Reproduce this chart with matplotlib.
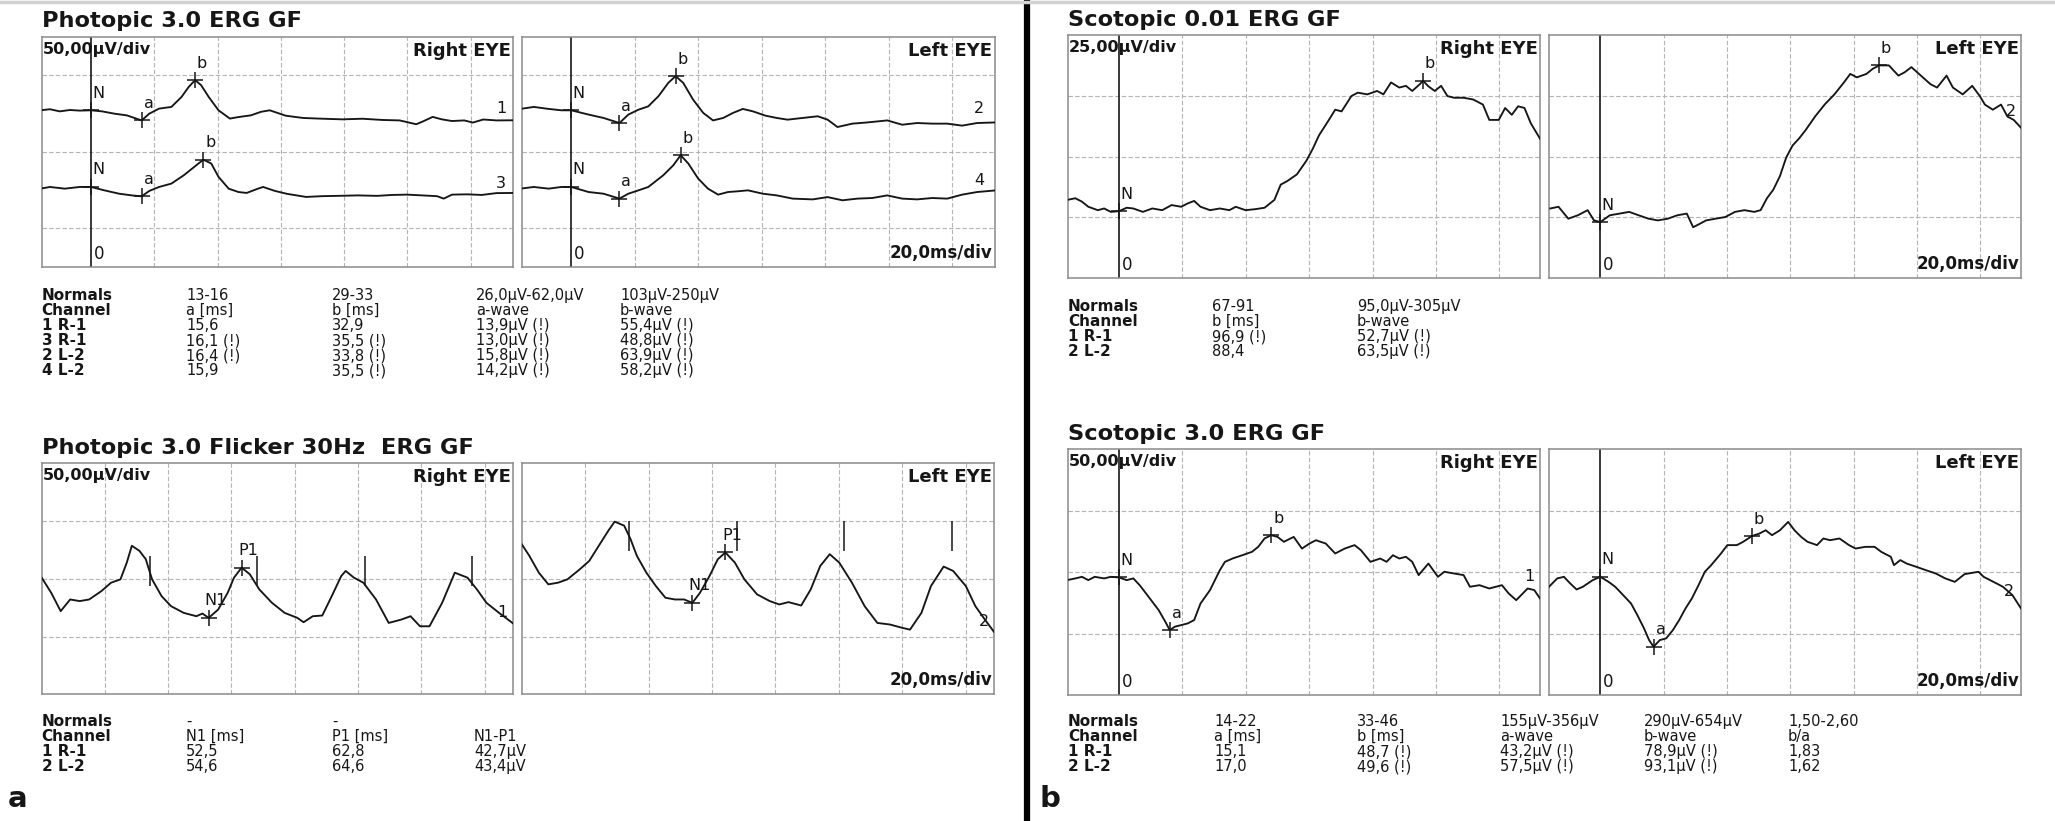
import matplotlib
matplotlib.use("Agg")
import matplotlib.pyplot as plt
from matplotlib.lines import Line2D

plt.rcParams['font.family'] = ['DejaVu Sans']
W, H = 2055, 821
INK = '#161616'
GRID = '#b4b4b4'
EDGE = '#8a8a8a'

# ---------------- Photopic 3.0 ERG (ms, uV relative to each trace baseline) ----------------
ph_t_ch1 = [-16, -13.0, -9.9, -6.7, -3.6, 0, 3.5, 7.4, 11.3, 13.7, 16.0, 18.4, 21.5, 25.4, 28.6, 30.9, 32.9, 34.8,
            37.2, 40.3, 43.9, 46.6, 50.5, 53.7, 56.5, 61.5, 67.0, 73.3, 79.5, 85.8, 92.1, 97.6, 102.8, 105.0,
            108.0, 110.9, 114.1, 118.0, 120.7, 124.0, 128.2, 134]
ph_v_ch1 = [0, 0.7, -0.7, 0.2, -0.2, 0, -0.7, -2.2, -3.3, -5.0, -6.6, -2.2, 1.1, 2.2, 8.7, 15.3, 19.7, 16.4,
            8.7, 0, -5.4, -4.4, -3.3, -1.0, 0.0, -3.5, -5.0, -5.5, -5.9, -5.5, -6.3, -6.6, -9.1, -7.2,
            -4.3, -5.9, -7.0, -6.6, -8.0, -6.0, -6.6, -6.5]
ph_t_ch3 = [-16, -13.0, -8.3, -3.6, 0, 4.2, 8.9, 12.9, 16.0, 18.4, 21.5, 25.4, 29.3, 33.3, 35.5, 38.0, 40.3,
            43.5, 46.6, 49.2, 52.9, 54.4, 58.0, 62.0, 68.0, 73.0, 78.0, 84.3, 90.5, 95.2, 99.9, 104.7, 109.4,
            111.5, 114.1, 118.8, 123.5, 128.2, 134]
ph_v_ch3 = [-1.1, 0, -1.1, 0, 0, -2.2, -4.4, -5.5, -6.1, -2.6, 0, 2.2, 7.6, 14.2, 17.8, 15.3, 6.6,
            -1.1, -3.3, -3.9, -1.0, 0.0, -2.5, -4.5, -6.5, -6.0, -5.8, -5.5, -5.8, -5.2, -5.0, -5.5, -6.0,
            -7.6, -5.0, -4.8, -5.2, -4.0, -3.9]
ph_t_ch2 = [-16, -11.8, -7.1, -3.1, 0, 5.5, 10.2, 15.2, 18.0, 21.2, 24.3, 27.5, 30.6, 32.9, 35.3, 38.4, 41.6,
            44.7, 47.9, 51.0, 54.1, 57.3, 61.2, 64.8, 68.2, 72.9, 77.7, 80.8, 83.9, 88.6, 93.4, 99.6, 104.3,
            109.0, 113.8, 118.5, 123.2, 127.9, 134]
ph_v_ch2 = [0.9, 2.2, 0.9, 0, 0, -2.8, -5.0, -8.3, -2.8, 0.4, 2.6, 9.2, 17.9, 22.3, 17.9, 7.0, -1.7,
            -6.6, -5.0, -1.7, 0.9, -0.7, -3.5, -5.0, -6.1, -5.0, -3.9, -6.1, -10.9, -8.7, -7.9, -6.6, -9.4,
            -8.3, -8.7, -8.7, -10.0, -8.3, -7.9]
ph_t_ch4 = [-16, -11.8, -7.1, -3.1, 0, 5.5, 10.2, 15.2, 18.0, 21.2, 24.3, 29.0, 32.2, 34.5, 36.9, 40.0, 43.1,
            46.3, 49.4, 52.6, 55.7, 60.4, 64.8, 69.8, 76.1, 80.8, 85.5, 90.2, 94.9, 99.6, 104.3, 109.0, 113.8,
            118.5, 123.2, 127.9, 134]
ph_v_ch4 = [-1.1, 0, -1.1, 0, 0, -3.3, -4.4, -7.6, -4.4, -2.2, 0, 7.6, 14.2, 20.7, 15.3, 5.5, -1.1,
            -5.0, -3.3, -2.8, -2.2, -4.4, -5.5, -7.6, -8.1, -6.6, -8.7, -7.6, -7.2, -5.5, -7.6, -8.1, -7.2,
            -7.6, -5.0, -3.3, -2.2]
ph_marks_ch1 = [("N", 0.0, 0.0), ("a", 16.0, -6.6), ("b", 32.9, 19.7)]
ph_marks_ch3 = [("N", 0.0, 0.0), ("a", 16.0, -6.1), ("b", 35.5, 17.8)]
ph_marks_ch2 = [("N", 0.0, 0.0), ("a", 15.2, -8.3), ("b", 32.9, 22.3)]
ph_marks_ch4 = [("N", 0.0, 0.0), ("a", 15.2, -7.6), ("b", 34.5, 20.7)]
ph_baselines = [102, 52]

# ---------------- Photopic 3.0 Flicker 30Hz (ms, uV) ----------------
fl_t_r = [0, 3.0, 6.0, 9.0, 12.0, 15.0, 18.9, 21.9, 24.9, 26.9, 28.5, 30.9, 32.9, 34.9, 37.9, 40.9, 44.9, 48.9,
          50.8, 52.8, 55.8, 58.8, 60.8, 63.2, 65.8, 68.8, 72.8, 76.8, 80.8, 82.8, 85.7, 88.7, 91.7, 94.7, 96.1,
          98.7, 101.7, 105.7, 109.7, 113.7, 116.6, 119.6, 122.6, 126.6, 130.6, 134.6, 137.6, 140.6, 144.6, 149.5]
fl_v_r = [101.0, 87.9, 72.0, 82.1, 80.7, 82.1, 89.4, 96.6, 99.5, 114.0, 128.6, 124.2, 117.0, 99.5, 85.0, 76.3,
          70.5, 67.6, 69.9, 66.2, 73.4, 87.9, 101.0, 109.7, 103.9, 90.8, 79.2, 70.5, 66.2, 62.4, 67.6, 68.2,
          85.0, 102.4, 106.8, 101.0, 96.6, 82.1, 61.8, 64.7, 67.6, 58.9, 58.9, 79.2, 105.3, 101.0, 90.8, 79.2,
          70.5, 60.4]
fl_t_l = [0, 2.4, 5.4, 8.4, 11.4, 14.4, 18.3, 21.3, 24.3, 27.3, 29.3, 32.3, 34.3, 36.3, 39.3, 42.3, 45.3, 48.3,
          51.2, 53.8, 56.2, 59.2, 61.8, 64.2, 67.2, 70.2, 74.2, 78.2, 81.2, 84.1, 88.1, 91.1, 94.1, 97.1, 100.1,
          104.1, 108.1, 112.1, 116.1, 120.0, 122.4, 126.0, 129.0, 133.0, 136.0, 140.0, 143.0, 146.0, 149.5]
fl_v_l = [130.0, 119.9, 105.3, 95.2, 96.6, 99.5, 108.2, 115.5, 128.6, 141.6, 149.5, 146.0, 134.4, 119.9, 105.3,
          93.7, 83.6, 82.1, 82.1, 79.2, 87.9, 102.4, 116.9, 122.8, 114.0, 99.5, 86.5, 80.7, 77.8, 79.8, 76.9,
          90.8, 111.1, 121.3, 114.0, 96.6, 76.3, 61.8, 60.4, 57.5, 56.0, 70.5, 93.7, 110.6, 106.8, 93.7, 76.3,
          64.7, 51.7]
fl_marks_r = [("N1", 52.8, 66.2), ("P1", 63.2, 109.7)]
fl_marks_l = [("N1", 53.8, 79.2), ("P1", 64.2, 122.8)]
fl_ticks_r = [34.3, 68.2, 102.1, 136.0]
fl_ticks_l = [33.9, 67.8, 101.7, 135.6]
fl_tick_span_r = (94, 120)
fl_tick_span_l = (124, 150)

# ---------------- Scotopic 0.01 ERG (ms, uV) ----------------
s1_t_r = [-16.4, -13.8, -11.7, -9.7, -6.7, -4.7, -2.6, 0, 2.4, 4.5, 7.5, 10.5, 13.6, 16.6, 19.6, 21.7, 23.7, 25.7,
          28.7, 31.8, 34.8, 36.8, 39.9, 42.9, 45.9, 49.0, 51.0, 53.0, 56.1, 59.1, 61.1, 63.1, 66.2, 68.2, 70.2,
          73.3, 75.3, 78.3, 81.4, 83.4, 85.8, 88.4, 90.5, 92.5, 94.9, 95.9, 97.6, 99.6, 101.6, 103.6, 105.7,
          108.7, 111.7, 114.8, 116.8, 119.8, 121.8, 123.9, 125.9, 127.9, 129.9, 132.8]
s1_v_r = [32.2, 32.9, 31.5, 29.4, 28.0, 28.7, 27.3, 27.6, 29.0, 28.7, 27.3, 28.7, 28.0, 30.1, 29.4, 30.8, 31.8,
          29.4, 28.0, 28.7, 28.0, 29.4, 28.0, 28.4, 29.0, 32.2, 38.5, 39.9, 42.7, 48.3, 53.2, 58.8, 65.1, 69.3,
          68.6, 74.9, 76.3, 75.6, 77.0, 75.6, 80.5, 78.4, 79.1, 77.0, 79.8, 81.2, 78.9, 77.0, 79.1, 74.9, 74.2,
          74.2, 73.5, 71.4, 65.1, 65.1, 70.0, 67.2, 70.7, 70.0, 63.7, 57.4]
s1_t_l = [-15.8, -13.2, -10.1, -7.1, -4.0, -2.0, 0, 3.0, 6.1, 9.1, 12.1, 15.2, 18.2, 21.3, 24.3, 27.3, 29.3, 31.4,
          33.4, 36.4, 39.5, 42.5, 45.5, 48.6, 50.6, 52.6, 54.6, 56.7, 58.7, 60.7, 62.7, 64.8, 67.8, 70.8, 73.9,
          76.9, 78.9, 81.0, 84.0, 86.0, 88.0, 91.1, 94.1, 96.1, 98.2, 101.2, 104.2, 106.3, 109.3, 111.3, 114.4,
          117.4, 119.8, 121.4, 123.9, 126.5, 128.5, 130.5, 133.0]
s1_v_l = [28.7, 29.4, 24.5, 25.9, 28.0, 23.8, 23.1, 25.9, 26.6, 27.3, 25.9, 24.5, 23.8, 24.5, 25.9, 26.6, 21.0,
          22.4, 23.8, 24.5, 25.2, 27.3, 28.0, 27.3, 28.0, 32.9, 36.4, 42.0, 49.7, 54.6, 57.4, 60.9, 66.5, 71.4,
          75.6, 80.5, 84.0, 82.6, 84.0, 86.1, 87.5, 87.5, 83.3, 84.7, 86.8, 83.3, 79.8, 78.4, 83.3, 78.4, 75.6,
          79.1, 74.9, 71.4, 69.3, 71.4, 66.5, 65.1, 61.6]
s1_marks_r = [("N", 0.0, 27.6), ("b", 95.9, 81.2)]
s1_marks_l = [("N", 0.0, 23.1), ("b", 88.0, 87.5)]

# ---------------- Scotopic 3.0 ERG (ms, uV) ----------------
s3_t_r = [-16.4, -13.8, -11.7, -9.7, -7.7, -4.7, -2.6, 0, 2.4, 4.5, 6.5, 8.5, 10.5, 12.5, 14.6, 16.0, 17.6, 19.6,
          21.7, 23.7, 25.7, 28.7, 31.8, 33.4, 35.8, 38.9, 41.9, 43.9, 45.9, 48.0, 50.0, 52.0, 55.1, 57.7, 60.1,
          62.1, 65.2, 68.2, 71.2, 74.3, 76.3, 79.3, 82.4, 84.4, 86.4, 88.4, 90.5, 92.5, 94.5, 97.6, 100.6, 102.6,
          105.7, 108.7, 110.7, 113.7, 116.8, 120.8, 122.9, 125.3, 128.9, 131.0, 132.8]
s3_v_r = [93.5, 94.9, 96.2, 93.5, 96.2, 94.9, 96.2, 95.7, 93.5, 94.9, 89.4, 82.7, 75.9, 69.1, 59.6, 52.8, 55.6,
          56.9, 58.3, 61.0, 74.5, 85.4, 101.6, 108.4, 111.1, 113.8, 116.5, 120.6, 127.4, 130.1, 128.7, 124.7,
          128.7, 119.2, 123.3, 126.0, 123.3, 115.2, 119.2, 122.0, 117.9, 108.4, 111.1, 108.4, 113.8, 111.1, 112.5,
          108.4, 97.6, 107.0, 96.2, 100.3, 98.9, 97.6, 88.1, 89.4, 86.7, 89.4, 82.7, 77.2, 86.7, 85.4, 78.6]
s3_t_l = [-16.2, -13.6, -11.5, -9.5, -7.5, -5.5, -2.4, 0, 2.6, 4.7, 6.7, 9.7, 11.7, 13.8, 15.4, 16.8, 18.8, 20.8,
          22.9, 24.9, 26.9, 28.9, 31.0, 33.0, 35.0, 38.1, 40.1, 43.1, 45.1, 47.8, 50.2, 52.2, 54.2, 56.7, 59.3,
          61.3, 63.4, 65.4, 68.4, 70.4, 72.5, 75.5, 78.5, 80.6, 83.6, 86.6, 88.7, 91.7, 92.7, 94.7, 96.7, 99.8,
          102.8, 105.9, 108.9, 111.9, 115.0, 119.4, 121.0, 124.1, 127.1, 130.1, 132.8]
s3_v_l = [88.1, 94.9, 96.2, 90.8, 85.9, 88.1, 93.5, 96.2, 92.1, 88.1, 82.7, 74.5, 65.0, 54.2, 44.7, 39.3, 44.7,
          46.1, 52.8, 61.0, 70.5, 78.6, 89.4, 100.3, 105.7, 115.2, 122.0, 122.0, 124.7, 129.3, 131.4, 134.1,
          130.1, 134.1, 140.9, 134.1, 128.7, 124.7, 122.0, 127.4, 126.0, 127.4, 122.0, 119.2, 120.6, 120.6,
          116.5, 112.5, 105.7, 109.8, 107.0, 104.3, 101.6, 98.9, 94.9, 92.1, 98.4, 100.3, 96.2, 92.1, 88.1,
          81.3, 70.5]
s3_marks_r = [("N", 0.0, 95.7), ("a", 16.0, 52.8), ("b", 48.0, 130.1)]
s3_marks_l = [("N", 0.0, 96.2), ("a", 16.8, 39.3), ("b", 47.8, 129.3)]

# ---------------- tables ----------------
ph_table = [["Normals", "13-16", "29-33", "26,0µV-62,0µV", "103µV-250µV"],
            ["Channel", "a [ms]", "b [ms]", "a-wave", "b-wave"],
            ["1 R-1", "15,6", "32,9", "13,9µV (!)", "55,4µV (!)"],
            ["3 R-1", "16,1 (!)", "35,5 (!)", "13,0µV (!)", "48,8µV (!)"],
            ["2 L-2", "16,4 (!)", "33,8 (!)", "15,8µV (!)", "63,9µV (!)"],
            ["4 L-2", "15,9", "35,5 (!)", "14,2µV (!)", "58,2µV (!)"]]
fl_table = [["Normals", "-", "-", ""],
            ["Channel", "N1 [ms]", "P1 [ms]", "N1-P1"],
            ["1 R-1", "52,5", "62,8", "42,7µV"],
            ["2 L-2", "54,6", "64,6", "43,4µV"]]
s1_table = [["Normals", "67-91", "95,0µV-305µV"],
            ["Channel", "b [ms]", "b-wave"],
            ["1 R-1", "96,9 (!)", "52,7µV (!)"],
            ["2 L-2", "88,4", "63,5µV (!)"]]
s3_table = [["Normals", "14-22", "33-46", "155µV-356µV", "290µV-654µV", "1,50-2,60"],
            ["Channel", "a [ms]", "b [ms]", "a-wave", "b-wave", "b/a"],
            ["1 R-1", "15,1", "48,7 (!)", "43,2µV (!)", "78,9µV (!)", "1,83"],
            ["2 L-2", "17,0", "49,6 (!)", "57,5µV (!)", "93,1µV (!)", "1,62"]]

# ---------------- drawing ----------------
fig = plt.figure(figsize=(W / 100, H / 100), dpi=100)
fig.patch.set_facecolor('white')


def rect(x1, y1, x2, y2):
    return [x1 / W, 1 - y2 / H, (x2 - x1) / W, (y2 - y1) / H]


def panel(box, xlim, ylim, xgrid, ygrid, zero):
    ax = fig.add_axes(rect(*box))
    ax.set_xlim(*xlim)
    ax.set_ylim(*ylim)
    ax.set_xticks([])
    ax.set_yticks([])
    for s in ax.spines.values():
        s.set_color(EDGE)
        s.set_linewidth(1.1)
    for x in xgrid:
        ax.axvline(x, color=GRID, lw=0.8, ls=(0, (4, 2)), zorder=1)
    for y in ygrid:
        ax.axhline(y, color=GRID, lw=0.8, ls=(0, (4, 2)), zorder=1)
    if zero:
        ax.axvline(0, color=INK, lw=1.2, zorder=2)
        ax.annotate('0', xy=(0, 0), xycoords=('data', 'axes fraction'), xytext=(3, 4),
                    textcoords='offset pixels', ha='left', va='bottom', fontsize=12, color=INK)
    return ax


def corner(ax, s, where, size=12):
    spec = {'tl': ((0, 1), (1, -5), 'left', 'top'),
            'tr': ((1, 1), (-2, -5), 'right', 'top'),
            'br': ((1, 0), (-2, 5), 'right', 'bottom')}[where]
    ax.annotate(s, xy=spec[0], xycoords='axes fraction', xytext=spec[1], textcoords='offset pixels',
                ha=spec[2], va=spec[3], fontsize=size, fontweight='bold', color=INK)


def trace(ax, t, v, base=0.0):
    ax.plot(t, [y + base for y in v], color=INK, lw=1.35, zorder=3, solid_joinstyle='round')


def marks(ax, items, base=0.0):
    for lab, t, v in items:
        ax.plot([t], [v + base], marker='+', ms=11, mew=1.1, color=INK, ls='none', zorder=4)
        ax.annotate(lab, xy=(t, v + base), xytext=(7, 17), textcoords='offset pixels',
                    ha='center', va='center', fontsize=11.5, color=INK)


def num(ax, t, v, s):
    ax.text(t, v, s, ha='center', va='center', fontsize=11.5, color=INK, zorder=5)


def table(xcols, y0, rows, dy=15.0):
    for i, row in enumerate(rows):
        for j, cell in enumerate(row):
            fig.text(xcols[j] / W, 1 - (y0 + i * dy) / H, cell, ha='left', va='center_baseline',
                     fontsize=11 if j == 0 else 10.5, fontweight='bold' if j == 0 else 'normal', color=INK)


PH_X = (-15.6, 133.4)
SC_X = (-16.2, 132.8)
GX = [20, 40, 60, 80, 100, 120]
EYE = 13

# Photopic 3.0
ax = panel((41.7, 36.7, 513, 266.7), PH_X, (0, 150), GX, [25, 75, 125], True)
trace(ax, ph_t_ch1, ph_v_ch1, ph_baselines[0]); marks(ax, ph_marks_ch1, ph_baselines[0])
trace(ax, ph_t_ch3, ph_v_ch3, ph_baselines[1]); marks(ax, ph_marks_ch3, ph_baselines[1])
num(ax, 129.7, ph_baselines[0] + 1, "1"); num(ax, 129.7, ph_baselines[1] + 2, "3")
corner(ax, "50,00µV/div", 'tl', 11.5); corner(ax, "Right EYE", 'tr', EYE)

ax = panel((521.7, 36.7, 994.5, 266.7), PH_X, (0, 150), GX, [25, 75, 125], True)
trace(ax, ph_t_ch2, ph_v_ch2, ph_baselines[0]); marks(ax, ph_marks_ch2, ph_baselines[0])
trace(ax, ph_t_ch4, ph_v_ch4, ph_baselines[1]); marks(ax, ph_marks_ch4, ph_baselines[1])
num(ax, 128.5, ph_baselines[0] + 1, "2"); num(ax, 128.5, ph_baselines[1] + 4.5, "4")
corner(ax, "Left EYE", 'tr', EYE); corner(ax, "20,0ms/div", 'br')

# Flicker
GXF = [20, 40, 60, 80, 100, 120, 140]
ax = panel((41.7, 463.3, 513, 694.3), (0, 149), (0, 200), GXF, [50, 100, 150], False)
trace(ax, fl_t_r, fl_v_r); marks(ax, fl_marks_r)
ax.vlines(fl_ticks_r, *fl_tick_span_r, color=INK, lw=1.1, zorder=3)
num(ax, 145.6, 70.5, "1")
corner(ax, "50,00µV/div", 'tl', 11.5); corner(ax, "Right EYE", 'tr', EYE)

ax = panel((521.7, 463.3, 994.4, 694.3), (0, 149), (0, 200), GXF, [50, 100, 150], False)
trace(ax, fl_t_l, fl_v_l); marks(ax, fl_marks_l)
ax.vlines(fl_ticks_l, *fl_tick_span_l, color=INK, lw=1.1, zorder=3)
num(ax, 145.6, 63.3, "2")
corner(ax, "Left EYE", 'tr', EYE); corner(ax, "20,0ms/div", 'br')

# Scotopic 0.01
ax = panel((1067.7, 35, 1540, 278.3), SC_X, (0, 100), GX, [25, 50, 75], True)
trace(ax, s1_t_r, s1_v_r); marks(ax, s1_marks_r)
corner(ax, "25,00µV/div", 'tl', 11.5); corner(ax, "Right EYE", 'tr', EYE)

ax = panel((1549, 35, 2021, 278.3), SC_X, (0, 100), GX, [25, 50, 75], True)
trace(ax, s1_t_l, s1_v_l); marks(ax, s1_marks_l)
num(ax, 129.5, 68.6, "2")
corner(ax, "Left EYE", 'tr', EYE); corner(ax, "20,0ms/div", 'br')

# Scotopic 3.0
ax = panel((1067.7, 449.3, 1540, 695), SC_X, (0, 200), GX, [50, 100, 150], True)
trace(ax, s3_t_r, s3_v_r); marks(ax, s3_marks_r)
num(ax, 129.5, 96.2, "1")
corner(ax, "50,00µV/div", 'tl', 11.5); corner(ax, "Right EYE", 'tr', EYE)

ax = panel((1549, 449.3, 2021, 695), SC_X, (0, 200), GX, [50, 100, 150], True)
trace(ax, s3_t_l, s3_v_l); marks(ax, s3_marks_l)
num(ax, 129.1, 84.0, "2")
corner(ax, "Left EYE", 'tr', EYE); corner(ax, "20,0ms/div", 'br')

# titles
for x, yb, s in [(42, 27, "Photopic 3.0 ERG GF"), (42, 454, "Photopic 3.0 Flicker 30Hz  ERG GF"),
                 (1068, 26, "Scotopic 0.01 ERG GF"), (1068, 440, "Scotopic 3.0 ERG GF")]:
    fig.text(x / W, 1 - yb / H, s, ha='left', va='baseline', fontsize=16.2, fontweight='bold', color=INK)

# tables
table([41.7, 186, 332, 476, 620], 294, ph_table)
table([41.7, 186, 332, 474], 720, fl_table)
table([1068, 1212, 1357], 305, s1_table)
table([1068, 1214, 1357, 1500, 1644, 1788], 720, s3_table)

# panel letters, divider, scan edge
fig.text(8 / W, 1 - 807 / H, "a", ha='left', va='baseline', fontsize=21, fontweight='bold', color=INK)
fig.text(1040 / W, 1 - 807 / H, "b", ha='left', va='baseline', fontsize=21, fontweight='bold', color=INK)
fig.add_artist(Line2D([1027 / W, 1027 / W], [0, 1], transform=fig.transFigure, color='black', lw=4.5))
fig.add_artist(Line2D([0, 1], [1 - 2 / H, 1 - 2 / H], transform=fig.transFigure, color='#d2d2d2', lw=2.5))

fig.savefig("out.png", dpi=100, facecolor='white')
